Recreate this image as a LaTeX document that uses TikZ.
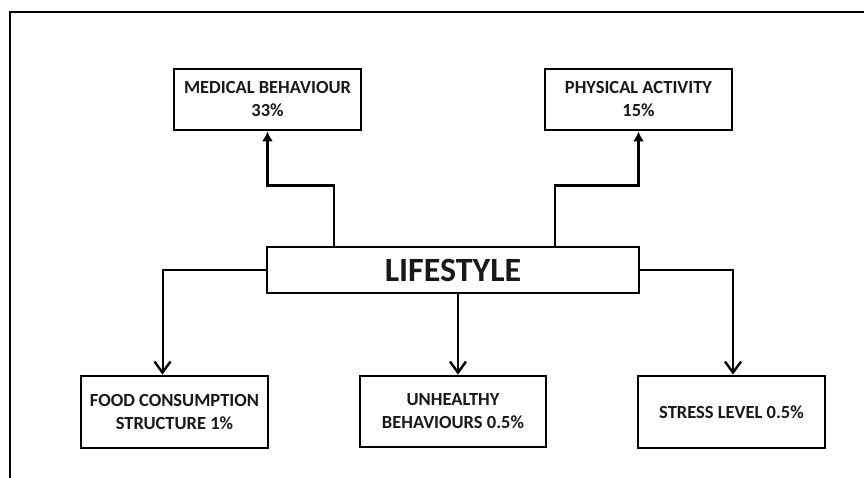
\documentclass[tikz,border=0pt]{standalone}
\usepackage{fontspec}
\setmainfont{Carlito}
\usepackage{tikz}
\usetikzlibrary{positioning, arrows.meta}
\tikzstyle{block} = [rectangle, draw=black, line width=2.8pt, text centered, align=center, minimum width=187pt, minimum height=61pt, inner sep=0pt, text=black!90, font=\fontsize{18.5}{23}\selectfont\bfseries]
\tikzstyle{mainblock} = [block, minimum width=372pt, minimum height=46pt, font=\fontsize{34}{40}\selectfont\bfseries]
\tikzstyle{arrowup} = [line width=2.6pt, -{Latex[length=10pt,width=11pt]}]
\tikzstyle{arrowdown} = [line width=2pt, -{Straight Barb[length=11pt,width=16pt,line width=2.4pt]}]
\begin{document}
\begin{tikzpicture}[x=1pt, y=-1pt]
			\useasboundingbox (0,0) rectangle (864,478);
			% frame
			\draw [line width=2.8pt] (10,478) -- (10,12) -- (866,12);
			% boxes
			\node (life) [mainblock] at (453,270) {LIFESTYLE};
			\node (med) [block] at (267.5,99.5) {MEDICAL BEHAVIOUR\\33\%};
			\node (phys) [block] at (638.5,99.5) {PHYSICAL ACTIVITY\\15\%};
			\node (food) [block, minimum height=72pt] at (174.5,412) {FOOD CONSUMPTION\\STRUCTURE 1\%};
			\node (unh) [block, minimum width=186pt, minimum height=71pt] at (453,411.5) {UNHEALTHY\\BEHAVIOURS 0.5\%};
			\node (stress) [block, minimum height=72pt] at (731.5,412) {STRESS LEVEL 0.5\%};
			% connectors
			\draw [arrowup] ([xshift=-119pt]life.north) -- ++(0,-60) -| (med.south);
			\draw [arrowup] ([xshift=102pt]life.north) -- ++(0,-60) -| (phys.south);
			\draw [arrowdown] (life.west) -| ([xshift=-12pt]food.north);
			\draw [arrowdown] ([xshift=5pt]life.south) -- ([xshift=5pt]unh.north);
			\draw [arrowdown] (life.east) -| ([xshift=1.5pt]stress.north);
		\end{tikzpicture}
\end{document}
